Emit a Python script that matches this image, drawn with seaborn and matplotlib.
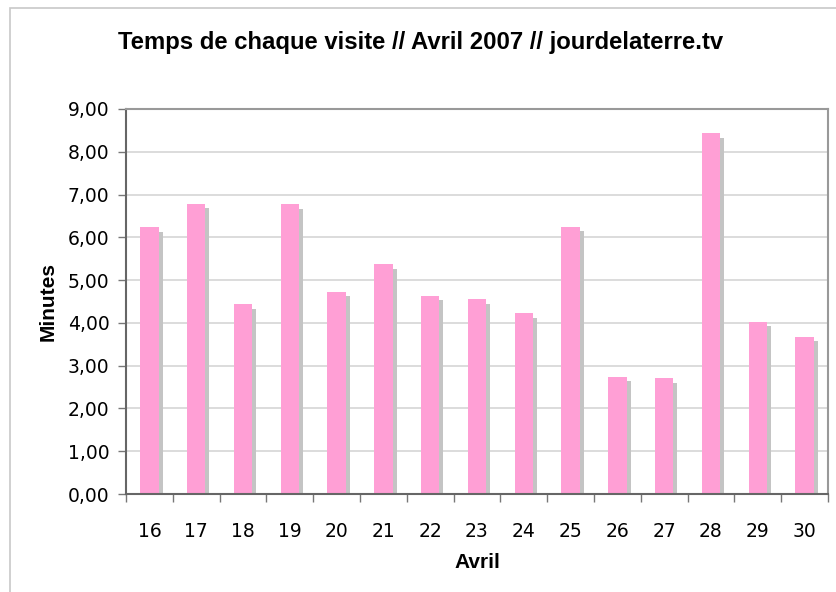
import pandas as pd
import numpy as np
import matplotlib
matplotlib.use("Agg")
import matplotlib.pyplot as plt
import matplotlib.patheffects as pe
from matplotlib.ticker import FuncFormatter
import seaborn as sns

# Temps moyen de chaque visite, avril 2007
jours = ["16", "17", "18", "19", "20", "21", "22", "23", "24", "25",
         "26", "27", "28", "29", "30"]
minutes = [6.23, 6.79, 4.44, 6.77, 4.73, 5.37, 4.64, 4.55, 4.22, 6.25,
           2.74, 2.71, 8.43, 4.02, 3.67]
yticks = [0, 1, 2, 3, 4, 5, 6, 7, 8, 9]

data = pd.DataFrame({"jour": jours, "minutes": minutes})

sns.set_style("white")
plt.rcParams["font.family"] = ["DejaVu Sans"]
plt.rcParams["text.color"] = "black"

fig = plt.figure(figsize=(8.36, 5.92), dpi=100)
ax = fig.add_axes([126 / 836, 1 - 494 / 592, 702 / 836, 385 / 592])

sns.barplot(data=data, x="jour", y="minutes", color="#ff9fd5", saturation=1,
            width=0.39, ax=ax, linewidth=0)

# ombre grise decalee des barres
for bar in ax.patches:
    bar.set_path_effects([pe.SimplePatchShadow(offset=(3, -3.2), shadow_rgbFace="#c4c4c4", alpha=1),
                          pe.Normal()])

ax.set_ylim(0, 9)
ax.set_xlim(-0.5, len(jours) - 0.5)
ax.set_yticks(yticks)
ax.yaxis.set_major_formatter(FuncFormatter(lambda v, p: f"{v:.2f}".replace(".", ",")))
ax.grid(axis="y", color="#d2d2d2", linewidth=1.1)
ax.set_axisbelow(True)

# ticks entre les categories, libelles au centre
ax.set_xticks(np.arange(-0.5, len(jours), 1))
ax.set_xticklabels([])
ax.set_xticks(np.arange(len(jours)), minor=True)
ax.set_xticklabels(jours, minor=True)
ax.tick_params(axis="x", which="major", direction="out", length=6, width=1, color="#777777", bottom=True)
ax.tick_params(axis="x", which="minor", length=0, pad=20, labelsize=13.5, labelcolor="black")
ax.tick_params(axis="y", direction="out", length=6, width=1, color="#777777", left=True,
               pad=6, labelsize=13.5, labelcolor="black")

for side in ["left", "bottom"]:
    ax.spines[side].set_color("#666666")
    ax.spines[side].set_linewidth(1.5)
for side in ["top", "right"]:
    ax.spines[side].set_visible(True)
    ax.spines[side].set_color("#999999")
    ax.spines[side].set_linewidth(1.5)

ax.set_xlabel("Avril", fontsize=15, fontweight="bold", family="Liberation Sans",
              va="center", color="black")
ax.xaxis.set_label_coords(0.5, -0.177)
ax.set_ylabel("Minutes", fontsize=15, fontweight="bold", family="Liberation Sans",
              va="center", color="black")
ax.yaxis.set_label_coords(-0.111, 0.5)

fig.text(0.503, 1 - 42 / 592, "Temps de chaque visite // Avril 2007 // jourdelaterre.tv",
         ha="center", va="center", fontsize=17.2, fontweight="bold",
         family="Liberation Sans", color="black")

# cadre du graphique
fig.patches.append(plt.Rectangle((10 / 836, -0.05), 1.0, 1 - 8 / 592 + 0.05,
                                 transform=fig.transFigure, fill=False,
                                 edgecolor="#c8c8c8", linewidth=1.2))

fig.savefig("out.png", dpi=100)
